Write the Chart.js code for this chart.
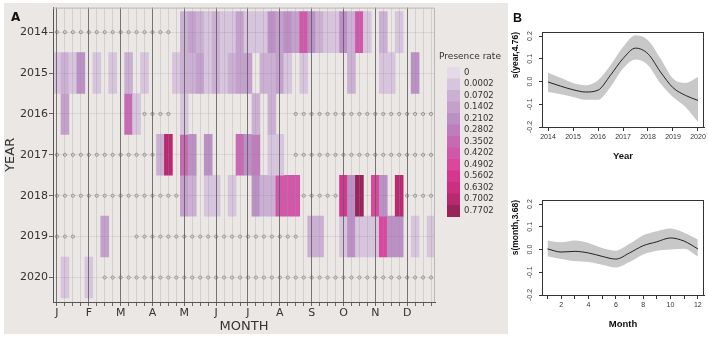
<!DOCTYPE html>
<html>
<head>
<meta charset="utf-8">
<script src="https://cdn.jsdelivr.net/npm/chart.js@4.4.1/dist/chart.umd.min.js"></script>
<style>
  html, body { margin: 0; padding: 0; background: #fff; }
  body { width: 708px; height: 338px; position: relative; overflow: hidden; }
  canvas { position: absolute; }
  #heat { left: 0; top: 0; }
  #yearFit { left: 508px; top: 0; }
  #monthFit { left: 508px; top: 168px; }
</style>
</head>
<body>
<canvas id="heat" width="510" height="338"></canvas>
<canvas id="yearFit" width="200" height="168"></canvas>
<canvas id="monthFit" width="200" height="170"></canvas>
<script>
// ---- panel A data: presence rate per week (4 weeks per month), one row per year
// _ = no value, o = not sampled (drawn as a small circle)
const _ = null, o = -1;
const years = [2014, 2015, 2016, 2017, 2018, 2019, 2020];
const monthLetters = ['J', 'F', 'M', 'A', 'M', 'J', 'J', 'A', 'S', 'O', 'N', 'D'];

const w2014 = [
  o, o, o, o, o, o, o, o, o, o, o, o,
  o, o, o, _, 0.1, 0.17, 0.1, 0.03, 0.1, 0.03, 0.03, 0.17,
  0.03, 0.03, 0.03, 0.24, 0.17, 0.24, 0.17, 0.45, 0.24, 0.1, 0.03, 0.03,
  0.24, 0.1, 0.45, 0.03, _, 0.1, _, 0.03, _, _, _, _
];
const w2015 = [
  0.03, 0.1, 0.03, 0.24, _, 0.03, _, 0.03, _, 0.1, _, 0.03,
  _, _, _, 0.03, 0.1, 0.1, 0.17, 0.03, 0.1, 0.03, 0.1, 0.17,
  0.17, _, 0.1, 0.1, 0.17, 0.03, _, 0.03, _, _, _, _,
  _, 0.1, _, _, _, 0.03, 0.03, _, _, 0.24, _, _
];
const w2016 = [
  _, 0.17, _, _, _, _, _, _, _, 0.38, 0.03, o,
  o, o, o, _, 0.03, _, _, _, _, _, _, _,
  _, 0.1, _, 0.1, _, _, o, o, o, o, o, o,
  o, o, o, o, o, o, o, o, o, o, o, o
];
const w2017 = [
  o, o, o, o, o, o, o, o, o, o, o, o,
  o, 0.1, 0.73, _, 0.38, 0.24, _, 0.24, _, _, _, 0.38,
  0.24, 0.3, _, 0.03, 0.03, _, o, o, o, o, o, o,
  o, o, o, o, o, o, o, o, o, o, o, o
];
const w2018 = [
  o, o, o, o, o, o, o, o, o, o, o, o,
  o, o, o, o, 0.17, 0.1, _, 0.03, 0.03, _, 0.03, _,
  _, 0.24, 0.1, 0.1, 0.45, 0.45, 0.45, o, o, o, o, o,
  0.6, 0.24, 0.8, _, 0.52, 0.24, _, 0.72, o, o, o, o
];
const w2019 = [
  o, o, o, _, _, _, 0.2, _, _, _, o, o,
  o, o, o, o, o, o, o, o, o, o, o, o,
  o, o, o, o, o, o, o, _, 0.1, 0.1, _, _,
  0.03, 0.24, 0.03, 0.03, 0.03, 0.52, 0.24, 0.24, _, 0.03, _, 0.03
];
const w2020 = [
  _, 0.03, _, _, 0.03, _, o, o, o, o, o, o,
  o, o, o, o, o, o, o, o, o, o, o, o,
  o, o, o, o, o, o, o, o, o, o, o, o,
  o, o, o, o, o, o, o, o, o, o, o, o
];

const breaks = [0, 0.0002, 0.0702, 0.1402, 0.2102, 0.2802, 0.3502, 0.4202, 0.4902, 0.5602, 0.6302, 0.7002, 0.7702];
const breakColors = ['#e5dbe8', '#d7c4dd', '#cbb0d4', '#c3a1cc', '#bb90c4', '#bf7dbc', '#c86ab3',
                     '#d158a8', '#da479d', '#d53790', '#cb2f80', '#b92970', '#98245a'];

// ---- panel B data: GAM smooths with confidence band
const yearX = [2014, 2014.5, 2015, 2015.5, 2016, 2016.5, 2017, 2017.5, 2018, 2018.5, 2019, 2019.5, 2020];
const yearFitY = [-0.002, -0.02, -0.036, -0.046, -0.038, 0.028, 0.101, 0.147, 0.122, 0.042, -0.027, -0.061, -0.083];
const yearUpper = [0.039, 0.017, -0.006, -0.016, 0.006, 0.072, 0.152, 0.204, 0.182, 0.101, 0.013, -0.006, 0.02];
const yearLower = [-0.046, -0.056, -0.068, -0.08, -0.08, -0.024, 0.057, 0.097, 0.072, -0.009, -0.068, -0.112, -0.178];

const monthX = [1, 2, 3, 4, 5, 6, 7, 8, 9, 10, 11, 12];
const monthFitY = [0.003, -0.011, -0.008, -0.015, -0.03, -0.042, -0.015, 0.017, 0.034, 0.051, 0.037, 0.003];
const monthUpper = [0.04, 0.032, 0.04, 0.029, 0.007, -0.005, 0.025, 0.063, 0.081, 0.093, 0.074, 0.044];
const monthLower = [-0.03, -0.042, -0.052, -0.055, -0.067, -0.079, -0.055, -0.022, -0.005, 0, 0.004, -0.03];

const yTickVals = [-0.2, -0.1, 0, 0.1, 0.2];

function colorFor(v) {
  let i = 0;
  while (i + 1 < breaks.length && v >= breaks[i + 1]) i++;
  return breakColors[i];
}

const fontA = 'DejaVu Sans';
const fontB = 'Liberation Sans';
const weekLabels = Array.from({ length: 48 }, (v, i) => (i % 4 === 0 ? monthLetters[i / 4] : ''));
const rows = [w2014, w2015, w2016, w2017, w2018, w2019, w2020];

const cellSets = years.map((yr, k) => ({
  type: 'bar',
  data: rows[k].map(v => (v !== null && v >= 0 ? [yr - 0.5, yr + 0.5] : null)),
  backgroundColor: rows[k].map(v => (v !== null && v >= 0 ? colorFor(v) : 'rgba(0,0,0,0)')),
  borderWidth: 0,
  grouped: false,
  categoryPercentage: 1,
  barPercentage: 1
}));

const dotSets = years.map((yr, k) => ({
  type: 'line',
  data: rows[k].map(v => (v === o ? yr : null)),
  showLine: false,
  pointRadius: 1.6,
  pointBorderWidth: 0.8,
  pointBorderColor: '#878787',
  pointBackgroundColor: 'rgba(0,0,0,0)'
}));

// background, frame, colour key and panel letter
const panelA = {
  id: 'panelA',
  beforeDraw(chart) {
    const ctx = chart.ctx;
    ctx.save();
    ctx.fillStyle = '#eae7e4';
    ctx.fillRect(4, 3, 504, 331);
    ctx.restore();
  },
  afterDraw(chart) {
    const { ctx, chartArea: a } = chart;
    ctx.save();
    ctx.strokeStyle = '#b8b8b8';
    ctx.lineWidth = 1;
    ctx.beginPath();
    ctx.moveTo(a.left, a.top + 0.5);
    ctx.lineTo(a.right - 0.5, a.top + 0.5);
    ctx.lineTo(a.right - 0.5, a.bottom);
    ctx.stroke();

    ctx.fillStyle = '#111';
    ctx.font = 'bold 12px ' + fontA;
    ctx.textBaseline = 'alphabetic';
    ctx.fillText('A', 11, 21);

    // presence rate key
    ctx.fillStyle = '#333';
    ctx.font = '9px ' + fontA;
    ctx.textAlign = 'center';
    ctx.textBaseline = 'middle';
    ctx.fillText('Presence rate', 470, 57);
    const boxTop = 67, boxH = 11.5;
    ctx.textAlign = 'left';
    ctx.font = '8.5px ' + fontA;
    breaks.forEach((b, i) => {
      ctx.fillStyle = breakColors[i];
      ctx.fillRect(447, boxTop + i * boxH, 13, boxH + 0.5);
      ctx.fillStyle = '#333';
      ctx.fillText(String(b), 464, boxTop + (i + 0.5) * boxH);
    });
    ctx.restore();
  }
};

new Chart(document.getElementById('heat'), {
  type: 'bar',
  data: { labels: weekLabels, datasets: [...cellSets, ...dotSets] },
  options: {
    responsive: false,
    animation: false,
    devicePixelRatio: 1,
    layout: { padding: { left: 0, top: 7, right: 75, bottom: 4 } },
    plugins: { legend: { display: false }, tooltip: { enabled: false } },
    scales: {
      x: {
        type: 'category',
        offset: true,
        grid: {
          offset: false,
          z: 1,
          color: c => (c.index % 4 === 0 ? 'rgba(95,95,95,0.85)' : 'rgba(150,150,150,0.28)'),
          lineWidth: 1,
          tickLength: 4,
          tickColor: '#666'
        },
        border: { color: '#555', z: 1 },
        ticks: { autoSkip: false, maxRotation: 0, padding: 1, color: '#333', font: { family: fontA, size: 11 } },
        title: { display: true, text: 'MONTH', color: '#333', font: { family: fontA, size: 13 }, padding: 0 },
        afterFit: s => { s.height = 32; }
      },
      y: {
        type: 'linear',
        reverse: true,
        min: 2013.4,
        max: 2020.6,
        afterBuildTicks: s => { s.ticks = years.map(v => ({ value: v })); },
        grid: { z: 1, color: 'rgba(120,120,120,0.15)', tickLength: 4, tickColor: '#666' },
        border: { color: '#555', z: 1 },
        ticks: { padding: 1, color: '#333', font: { family: fontA, size: 11 }, callback: v => String(v) },
        title: { display: true, text: 'YEAR', color: '#333', font: { family: fontA, size: 13 }, padding: { top: 3, bottom: 0 } },
        afterFit: s => { s.width = 53; }
      }
    }
  },
  plugins: [panelA]
});

// ---- panel B
const frameB = {
  id: 'frameB',
  afterDraw(chart) {
    const { ctx, chartArea: a } = chart;
    ctx.save();
    ctx.strokeStyle = '#333';
    ctx.lineWidth = 1;
    ctx.strokeRect(a.left + 0.5, a.top + 0.5, a.right - a.left - 1, a.bottom - a.top);
    if (chart.options.panelTag) {
      ctx.fillStyle = '#111';
      ctx.font = 'bold 12.5px ' + fontB;
      ctx.fillText(chart.options.panelTag, 5, 22);
    }
    ctx.restore();
  }
};

function smoothPanel(id, xs, fit, upper, lower, xMin, xMax, xTicks, labelFn, xTitle, yTitle, padBottom, tag) {
  const pts = arr => xs.map((x, i) => ({ x, y: arr[i] }));
  new Chart(document.getElementById(id), {
    type: 'line',
    data: {
      datasets: [
        { data: pts(fit), borderColor: '#222', borderWidth: 1, pointRadius: 0, cubicInterpolationMode: 'monotone', fill: false },
        { data: pts(upper), borderWidth: 0, borderColor: 'rgba(0,0,0,0)', pointRadius: 0, cubicInterpolationMode: 'monotone', fill: '+1', backgroundColor: '#c8c8c8' },
        { data: pts(lower), borderWidth: 0, borderColor: 'rgba(0,0,0,0)', pointRadius: 0, cubicInterpolationMode: 'monotone', fill: false }
      ]
    },
    options: {
      responsive: false,
      animation: false,
      devicePixelRatio: 1,
      panelTag: tag,
      layout: { padding: { left: 0, right: 4, top: 32, bottom: padBottom } },
      plugins: { legend: { display: false }, tooltip: { enabled: false } },
      scales: {
        x: {
          type: 'linear',
          min: xMin,
          max: xMax,
          afterBuildTicks: s => { s.ticks = xTicks.map(v => ({ value: v })); },
          grid: { drawOnChartArea: false, tickLength: 4, color: '#333' },
          border: { color: '#333' },
          ticks: { autoSkip: false, maxRotation: 0, padding: 2, color: '#333', font: { family: fontB, size: 7 }, callback: labelFn },
          title: { display: true, text: xTitle, color: '#111', font: { family: fontB, size: 9.5, weight: 'bold' }, padding: 0 },
          afterFit: s => { s.height = 35; }
        },
        y: {
          type: 'linear',
          min: -0.2,
          max: 0.218,
          afterBuildTicks: s => { s.ticks = yTickVals.map(v => ({ value: v })); },
          grid: { drawOnChartArea: false, tickLength: 3, color: '#333' },
          border: { color: '#333' },
          ticks: { minRotation: 90, maxRotation: 90, crossAlign: 'center', padding: 2.5, color: '#444', font: { family: fontB, size: 7 }, callback: v => v.toFixed(1) },
          title: { display: true, text: yTitle, align: 'end', color: '#111', font: { family: fontB, size: 8.5, weight: 'bold' }, padding: { top: 3, bottom: 0 } },
          afterFit: s => { s.width = 34; }
        }
      }
    },
    plugins: [frameB]
  });
}

smoothPanel('yearFit', yearX, yearFitY, yearUpper, yearLower, 2013.76, 2020.24,
  [2014, 2015, 2016, 2017, 2018, 2019, 2020], v => String(v), 'Year', 's(year,4.76)', 6, 'B');
smoothPanel('monthFit', monthX, monthFitY, monthUpper, monthLower, 0.6, 12.45,
  monthX, v => (v % 2 === 0 ? String(v) : ''), 'Month', 's(month,3.68)', 8, '');
</script>
</body>
</html>
